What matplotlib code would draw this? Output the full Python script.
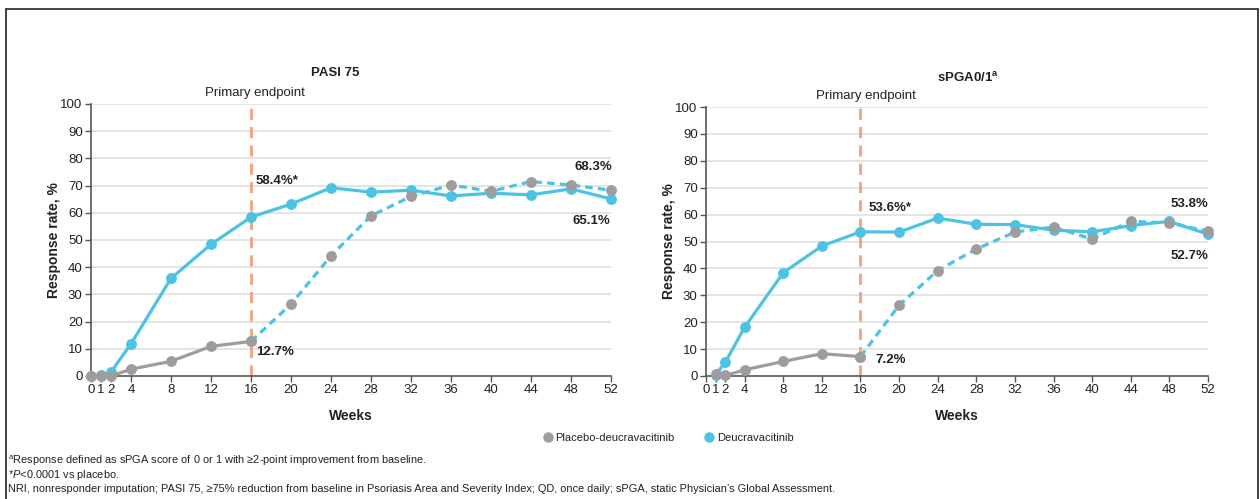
import matplotlib.pyplot as plt
from matplotlib.lines import Line2D
from matplotlib.patches import Rectangle

plt.rcParams['font.family'] = ['Liberation Sans', 'DejaVu Sans']
plt.rcParams['mathtext.fontset'] = 'custom'
plt.rcParams['mathtext.rm'] = 'Liberation Sans'
plt.rcParams['mathtext.it'] = 'Liberation Sans:italic'
plt.rcParams['mathtext.bf'] = 'Liberation Sans:bold'

# PASI 75 response rates (%)
pasi_weeks = [0, 1, 2, 4, 8, 12, 16, 20, 24, 28, 32, 36, 40, 44, 48, 52]
pasi_deucra = [0, 0.2, 1.5, 11.8, 35.9, 48.4, 58.4, 63.2, 69.2, 67.6, 68.3, 66.2, 67.2, 66.6, 68.8, 65.1]
pasi_placebo_weeks = [0, 1, 2, 4, 8, 12, 16]
pasi_placebo = [0, 0, 0, 2.5, 5.4, 10.9, 12.7]
pasi_switch_weeks = [16, 20, 24, 28, 32, 36, 40, 44, 48, 52]
pasi_switch = [12.7, 26.4, 44.2, 58.9, 66.0, 70.2, 67.9, 71.5, 70.2, 68.3]

# sPGA 0/1 response rates (%)
spga_weeks = [1, 2, 4, 8, 12, 16, 20, 24, 28, 32, 36, 40, 44, 48, 52]
spga_deucra = [0.5, 5.1, 18.1, 38.4, 48.3, 53.6, 53.5, 58.7, 56.4, 56.3, 54.2, 53.6, 55.9, 57.5, 52.7]
spga_placebo_weeks = [1, 2, 4, 8, 12, 16]
spga_placebo = [0.6, 0.2, 2.3, 5.4, 8.3, 7.2]
spga_switch_weeks = [16, 20, 24, 28, 32, 36, 40, 44, 48, 52]
spga_switch = [7.2, 26.3, 39.2, 47.2, 53.5, 55.4, 50.9, 57.5, 56.9, 53.8]

xticks = [0, 1, 2, 4, 8, 12, 16, 20, 24, 28, 32, 36, 40, 44, 48, 52]
yticks = list(range(0, 101, 10))

BLUE = '#4CC3E2'
GRAY = '#A09C9D'
ORANGE = '#F4A07C'
TXT = '#222222'

W, H = 1260, 499
fig = plt.figure(figsize=(W / 100, H / 100), dpi=100)

# outer frame
fig.patches.append(Rectangle((6 / W, -0.02), 1252 / W, 1 - 9 / H + 0.02,
                             transform=fig.transFigure, fill=False,
                             edgecolor='#333333', linewidth=1.3))


def panel(rect, title, title_xy, pe_xy, deucra_w, deucra, pl_w, pl, sw_w, sw, labels):
    ax = fig.add_axes(rect)
    ax.set_xlim(0, 52)
    ax.set_ylim(0, 100)
    ax.set_xticks(xticks)
    ax.set_xticklabels([str(t) for t in xticks])
    ax.set_yticks(yticks)
    for s in ['top', 'right']:
        ax.spines[s].set_visible(False)
    for s in ['left', 'bottom']:
        ax.spines[s].set_color('#555555')
        ax.spines[s].set_linewidth(1.2)
    ax.tick_params(length=4, width=1, color='#555555', labelsize=9.5,
                   labelcolor=TXT, pad=2)
    for y in yticks[1:]:
        ax.axhline(y, color='#E4E4E4', lw=1.4, zorder=0)

    ax.axvline(16, color=ORANGE, lw=2, dashes=(4, 2.6), zorder=1)

    ax.plot(deucra_w, deucra, color=BLUE, lw=2.3, marker='o', ms=6.8,
            mec=BLUE, zorder=3, clip_on=False)
    ax.plot(pl_w, pl, color=GRAY, lw=2.3, marker='o', ms=6.8,
            zorder=4, clip_on=False)
    ax.plot(sw_w, sw, color=BLUE, lw=2.3, dashes=(2.4, 1.6), zorder=4,
            clip_on=False)
    ax.plot(sw_w, sw, ls='none', marker='o', ms=6.8, color=GRAY,
            zorder=5, clip_on=False)

    for (x, y, text, dx, dy, ha) in labels:
        ax.annotate(text, (x, y), xytext=(dx, dy), textcoords='offset pixels',
                    ha=ha, va='center', fontsize=9.5, fontweight='bold',
                    color=TXT)

    ax.set_xlabel('Weeks', fontsize=10, fontweight='bold', color=TXT)
    ax.xaxis.set_label_coords(0.5, -33 / (rect[3] * H))
    ax.set_ylabel('Response rate, %', fontsize=10, fontweight='bold', color=TXT)
    ax.yaxis.set_label_coords(-30 / (rect[2] * W), 0.5)

    fig.text(title_xy[0] / W, 1 - title_xy[1] / H, title, ha='center',
             va='center', fontsize=9.5, fontweight='bold', color=TXT)
    fig.text(pe_xy[0] / W, 1 - pe_xy[1] / H, 'Primary endpoint', ha='center',
             va='center', fontsize=9.5, color=TXT)
    return ax


panel([91 / W, 123 / H, 520 / W, 272 / H], 'PASI 75', (335, 73), (255, 93),
      pasi_weeks, pasi_deucra, pasi_placebo_weeks, pasi_placebo,
      pasi_switch_weeks, pasi_switch,
      [(16, pasi_deucra[6], '58.4%*', 5, 36, 'left'),
       (16, pasi_placebo[-1], '12.7%', 5, -11, 'left'),
       (52, pasi_switch[-1], '68.3%', 1, 23, 'right'),
       (52, pasi_deucra[-1], '65.1%', -1, -22, 'right')])

panel([706 / W, 123 / H, 502 / W, 269 / H], r'sPGA0/1$^{\mathbf{a}}$', (968, 78),
      (866, 96),
      spga_weeks, spga_deucra, spga_placebo_weeks, spga_placebo,
      spga_switch_weeks, spga_switch,
      [(16, spga_deucra[5], '53.6%*', 8, 24, 'left'),
       (16, spga_placebo[-1], '7.2%', 15, -3, 'left'),
       (52, spga_switch[-1], '53.8%', 0, 27, 'right'),
       (52, spga_deucra[-1], '52.7%', 0, -22, 'right')])

handles = [Line2D([], [], ls='none', marker='o', ms=6.5, color=GRAY),
           Line2D([], [], ls='none', marker='o', ms=6.5, color=BLUE)]
fig.legend(handles, ['Placebo-deucravacitinib', 'Deucravacitinib'],
           loc='center', bbox_to_anchor=(668 / W, 1 - 438 / H), ncol=2,
           frameon=False, fontsize=8, handletextpad=0.2, columnspacing=2.6,
           handlelength=1.0, labelcolor=TXT)

notes = [r'$^{\rm a}$Response defined as sPGA score of 0 or 1 with ≥2-point improvement from baseline.',
         r'*$\it{P}$<0.0001 vs placebo.',
         'NRI, nonresponder imputation; PASI 75, ≥75% reduction from baseline in Psoriasis Area and '
         'Severity Index; QD, once daily; sPGA, static Physician\u2019s Global Assessment.']
for i, note in enumerate(notes):
    fig.text(8 / W, 1 - (461 + 14 * i) / H, note, ha='left', va='center',
             fontsize=7.9, color=TXT)

fig.savefig('out.png', dpi=100)
